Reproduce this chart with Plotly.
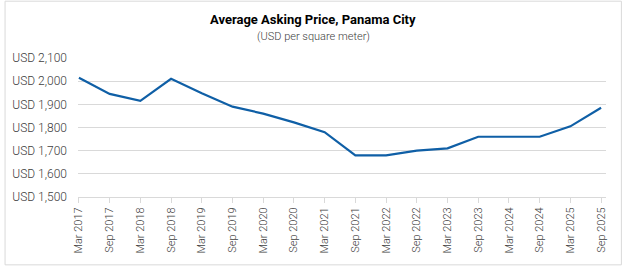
import plotly.graph_objects as go

periods = ["Mar 2017", "Sep 2017", "Mar 2018", "Sep 2018", "Mar 2019", "Sep 2019",
           "Mar 2020", "Sep 2020", "Mar 2021", "Sep 2021", "Mar 2022", "Sep 2022",
           "Mar 2023", "Sep 2023", "Mar 2024", "Sep 2024", "Mar 2025", "Sep 2025"]
price_usd_m2 = [2015, 1945, 1915, 2010, 1948, 1890, 1860, 1822, 1780, 1680,
                1680, 1700, 1710, 1760, 1760, 1760, 1805, 1885]
title_text = "Average Asking Price, Panama City"
subtitle_text = "(USD per square meter)"

W, H = 622, 266
L, R, T, B = 74, 16, 57.6, 68.7

fig = go.Figure()
fig.add_trace(go.Scatter(
    x=list(range(len(periods))), y=price_usd_m2, mode="lines",
    line=dict(color="#0F5FA6", width=2.2), hoverinfo="skip", showlegend=False))

pw = W - L - R
ph = H - T - B
fig.update_layout(
    width=W, height=H,
    margin=dict(l=L, r=R, t=T, b=B),
    paper_bgcolor="white", plot_bgcolor="white",
    font=dict(family="Roboto", color="#404040"),
    xaxis=dict(
        tickmode="array", tickvals=list(range(len(periods))), ticktext=periods,
        range=[-0.03, 17.16], tickangle=-90,
        tickfont=dict(size=11, color="#404040", weight=300),
        showgrid=False, zeroline=False, showline=True, linecolor="#d9d9d9", linewidth=1,
        ticks="outside", ticklen=5, tickcolor="#d9d9d9", fixedrange=True),
    yaxis=dict(
        range=[1500, 2100], dtick=100, tickprefix="USD ", tickformat=",",
        tickfont=dict(size=12, color="#404040", weight=300),
        showgrid=True, gridcolor="#d9d9d9", gridwidth=1, zeroline=False,
        showline=False, ticks="", ticklabelstandoff=10, fixedrange=True),
    annotations=[
        dict(text="<b>" + title_text + "</b>", x=(W / 2 - L) / pw, y=(H - 19 - B) / ph,
             xref="paper", yref="paper", showarrow=False, xanchor="center", yanchor="middle",
             font=dict(size=13, color="#000000", family="Roboto")),
        dict(text=subtitle_text, x=(W / 2 - L) / pw, y=(H - 36 - B) / ph,
             xref="paper", yref="paper", showarrow=False, xanchor="center", yanchor="middle",
             font=dict(size=11, color="#404040", family="Roboto", weight=300)),
    ],
    shapes=[dict(type="rect", xref="paper", yref="paper",
                 x0=(0.5 - L) / pw, x1=(W - 0.5 - L) / pw,
                 y0=(0.5 - B) / ph, y1=(H - 0.5 - B) / ph,
                 line=dict(color="#d9d9d9", width=1), layer="below")],
)

fig.write_html("out.html")
